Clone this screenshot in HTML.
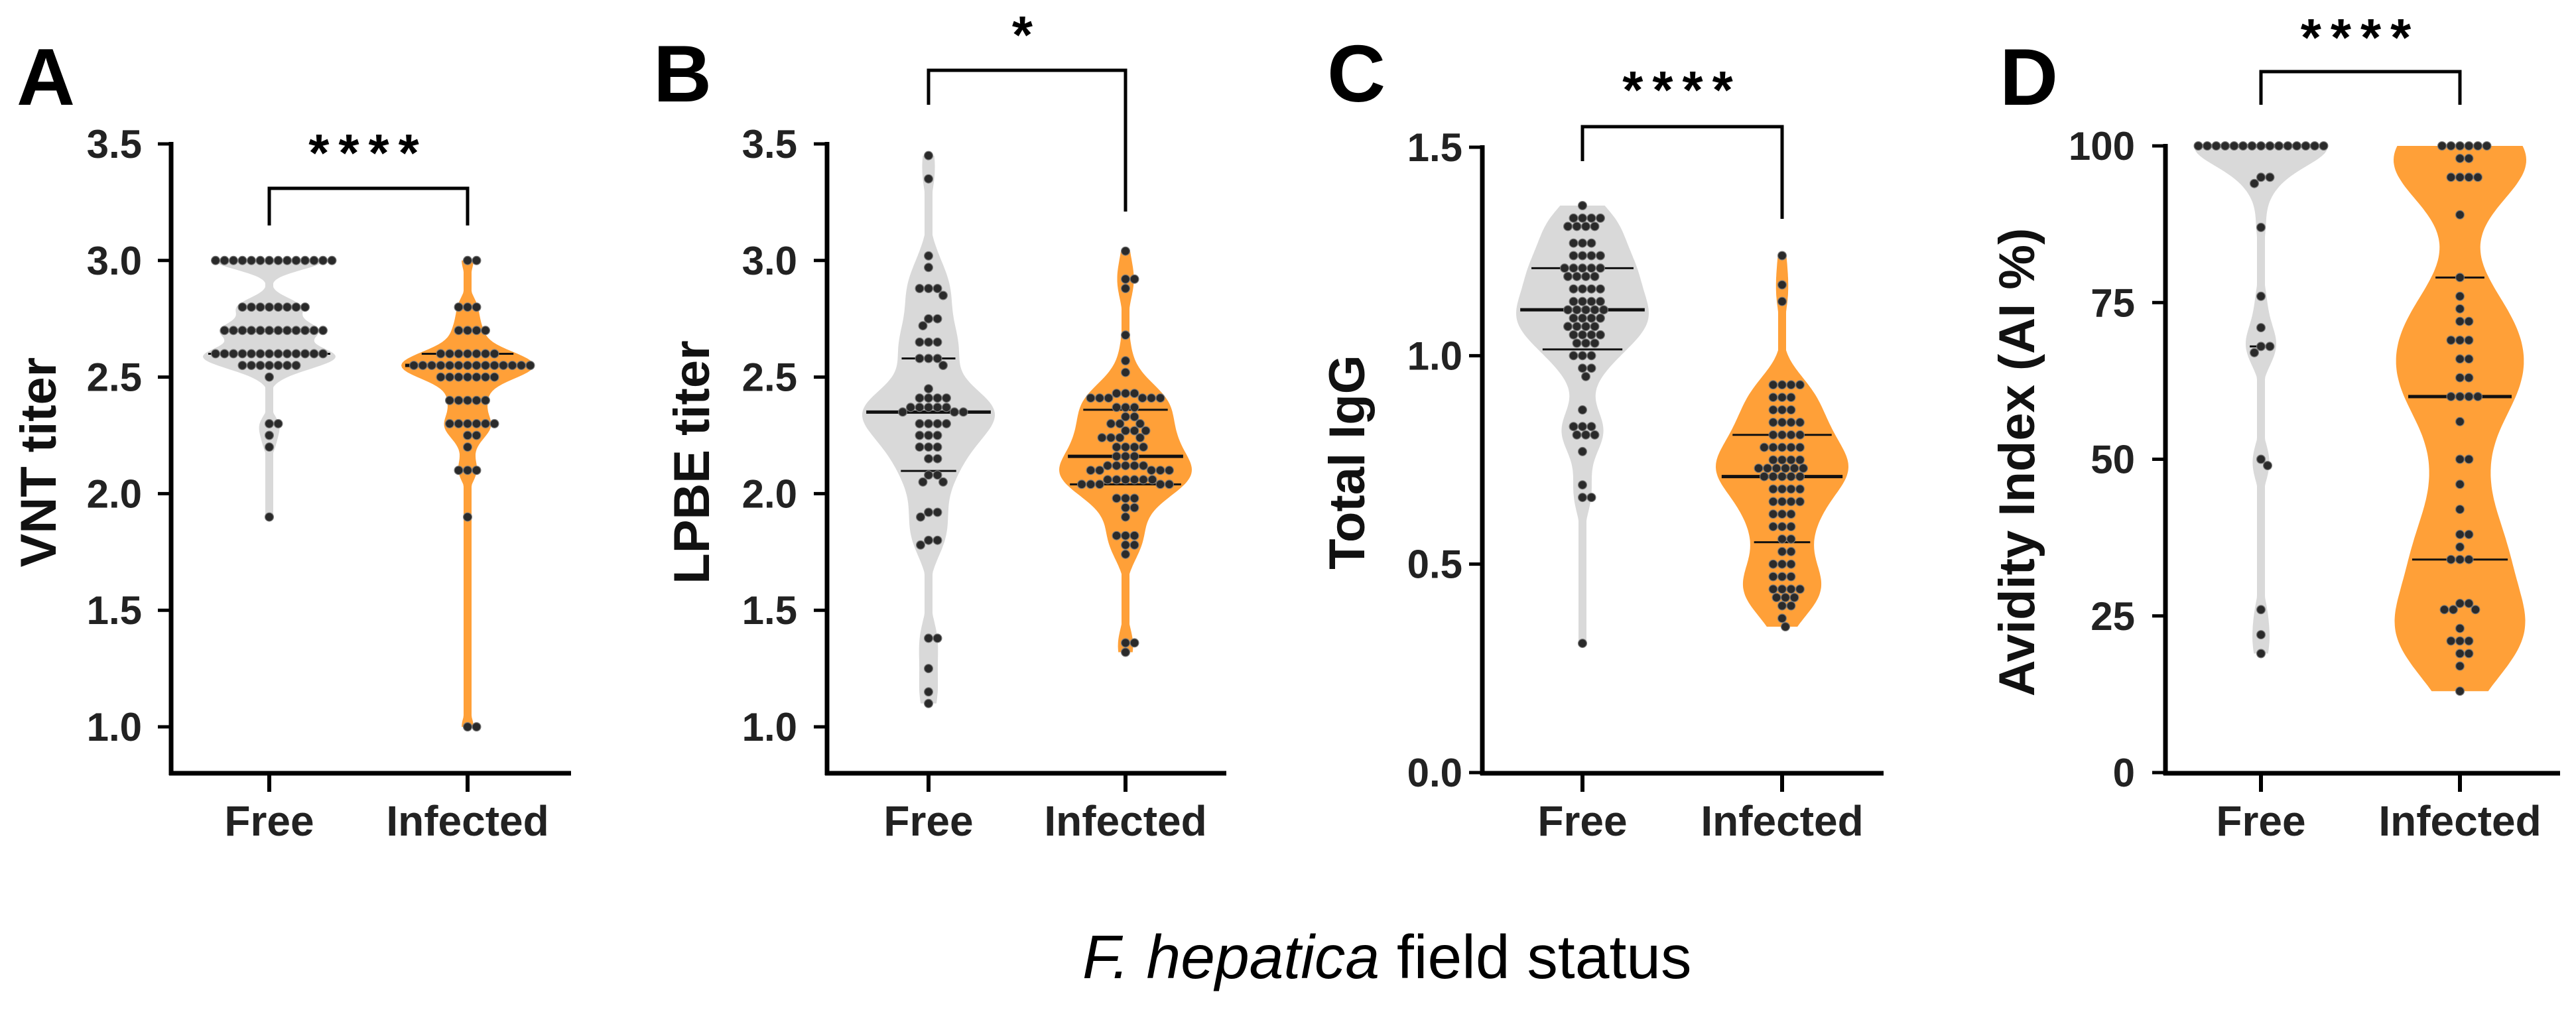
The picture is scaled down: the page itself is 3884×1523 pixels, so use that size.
<!DOCTYPE html>
<html><head><meta charset="utf-8"><style>
html,body{margin:0;padding:0;background:#fff;}
svg{display:block;font-family:"Liberation Sans",Arial,sans-serif;}
</style></head><body>
<svg id="fig" width="3884" height="1523" viewBox="0 0 3884 1523">
<text x="1632" y="1475" font-size="93"><tspan font-style="italic">F. hepatica</tspan> field status</text>
</svg>
<script>
// ---- Data: value levels and counts per group ----
const categories = ["Free", "Infected"];
const aFreeVals = [3.0, 2.8, 2.7, 2.6, 2.55, 2.5, 2.3, 2.25, 2.2, 1.9];
const aFreeCounts = [14, 8, 12, 13, 7, 1, 2, 1, 1, 1];
const aInfVals = [3.0, 2.8, 2.7, 2.6, 2.55, 2.5, 2.4, 2.3, 2.25, 2.2, 2.1, 1.9, 1.0];
const aInfCounts = [2, 3, 4, 7, 14, 7, 5, 6, 2, 1, 3, 1, 2];
const bFreeVals = [3.45, 3.35, 3.02, 2.97, 2.88, 2.85, 2.75, 2.72, 2.65, 2.58, 2.55, 2.45, 2.41, 2.37, 2.35, 2.3, 2.25, 2.2, 2.15, 2.08, 2.05, 1.92, 1.9, 1.8, 1.78, 1.38, 1.25, 1.15, 1.1];
const bFreeCounts = [1, 1, 1, 1, 3, 1, 2, 1, 3, 3, 1, 1, 4, 5, 3, 4, 3, 3, 2, 2, 2, 2, 1, 2, 1, 2, 1, 1, 1];
const bInfVals = [3.04, 2.92, 2.88, 2.68, 2.57, 2.52, 2.43, 2.41, 2.37, 2.33, 2.3, 2.27, 2.24, 2.2, 2.16, 2.12, 2.1, 2.06, 2.04, 1.98, 1.94, 1.9, 1.82, 1.78, 1.74, 1.36, 1.32];
const bInfCounts = [1, 2, 1, 1, 1, 1, 3, 6, 3, 2, 3, 3, 4, 4, 3, 5, 5, 6, 5, 3, 2, 1, 3, 2, 1, 2, 1];
const cFreeVals = [1.36, 1.33, 1.31, 1.27, 1.24, 1.21, 1.19, 1.16, 1.13, 1.11, 1.09, 1.07, 1.05, 1.03, 1.0, 0.97, 0.95, 0.87, 0.83, 0.81, 0.77, 0.69, 0.66, 0.31];
const cFreeCounts = [1, 4, 4, 3, 4, 5, 4, 4, 4, 5, 4, 4, 4, 3, 3, 2, 1, 1, 3, 3, 1, 1, 2, 1];
const cInfVals = [1.24, 1.17, 1.13, 0.93, 0.9, 0.87, 0.84, 0.81, 0.78, 0.75, 0.73, 0.71, 0.68, 0.65, 0.62, 0.59, 0.56, 0.53, 0.5, 0.47, 0.44, 0.42, 0.4, 0.37, 0.35];
const cInfCounts = [1, 1, 1, 4, 3, 3, 4, 4, 5, 4, 6, 5, 4, 4, 3, 3, 2, 2, 3, 3, 4, 3, 2, 1, 1];
const dFreeVals = [100, 95, 94, 87, 76, 71, 68, 67, 50, 49, 26, 22, 19];
const dFreeCounts = [15, 2, 1, 1, 1, 1, 2, 1, 1, 1, 1, 1, 1];
const dInfVals = [100, 98, 95, 89, 79, 76, 74, 72, 69, 66, 63, 60, 56, 50, 46, 42, 38, 36, 34, 27, 26, 23, 21, 19, 17, 13];
const dInfCounts = [6, 2, 4, 1, 1, 1, 1, 2, 3, 2, 2, 4, 1, 2, 1, 1, 2, 1, 3, 2, 3, 1, 3, 2, 1, 1];
const aTicks = [1.0, 1.5, 2.0, 2.5, 3.0, 3.5];
const aTickLabels = ["1.0", "1.5", "2.0", "2.5", "3.0", "3.5"];
const cTicks = [0, 0.5, 1.0, 1.5];
const cTickLabels = ["0.0", "0.5", "1.0", "1.5"];
const dTicks = [0, 25, 50, 75, 100];
const dTickLabels = ["0", "25", "50", "75", "100"];
const sigLabels = ["****", "*", "****", "****"];

const NS = "http://www.w3.org/2000/svg";
const svg = document.getElementById("fig");
function mk(tag, attrs, parent) {
  const e = document.createElementNS(NS, tag);
  for (const k in attrs) e.setAttribute(k, attrs[k]);
  (parent || svg).appendChild(e);
  return e;
}
function expand(v, c) { const o = []; v.forEach((x, i) => { for (let k = 0; k < c[i]; k++) o.push(x); }); return o; }
function quant(s, p) { const i = (s.length - 1) * p, lo = Math.floor(i), hi = Math.ceil(i); return s[lo] + (s[hi] - s[lo]) * (i - lo); }

const panels = [
  {id: "a", letter: "A", title: "VNT titer", free: expand(aFreeVals, aFreeCounts), inf: expand(aInfVals, aInfCounts),
   ticks: aTicks, tlab: aTickLabels, d0: 1.0, d1: 3.5, p0: 1096, p1: 217, axX: 258, axEnd: 861, xF: 406, xI: 705,
   tlRight: 214, titleX: 57, lx: 25, ly: 158, bw: [0.04, 0.05], star: 224, brTop: 284, legL: 340, legR: 340},
  {id: "b", letter: "B", title: "LPBE titer", free: expand(bFreeVals, bFreeCounts), inf: expand(bInfVals, bInfCounts),
   ticks: aTicks, tlab: aTickLabels, d0: 1.0, d1: 3.5, p0: 1096, p1: 217, axX: 1247, axEnd: 1849, xF: 1400, xI: 1697,
   tlRight: 1202, titleX: 1042, lx: 985, ly: 153, bw: [0.09, 0.08], star: 46, brTop: 106, legL: 158, legR: 319},
  {id: "c", letter: "C", title: "Total  IgG", free: expand(cFreeVals, cFreeCounts), inf: expand(cInfVals, cInfCounts),
   ticks: cTicks, tlab: cTickLabels, d0: 0, d1: 1.5, p0: 1165, p1: 222, axX: 2235, axEnd: 2840, xF: 2386, xI: 2687,
   tlRight: 2205, titleX: 2030, lx: 2001, ly: 153, bw: [0.05, 0.05], star: 129, brTop: 191, legL: 243, legR: 330},
  {id: "d", letter: "D", title: "Avidity Index (AI %)", free: expand(dFreeVals, dFreeCounts), inf: expand(dInfVals, dInfCounts),
   ticks: dTicks, tlab: dTickLabels, d0: 0, d1: 100, p0: 1165, p1: 220, axX: 3265, axEnd: 3860, xF: 3409, xI: 3709,
   tlRight: 3219, titleX: 3040, lx: 3015, ly: 158, bw: [3, 6], star: 50, brTop: 108, legL: 158, legR: 158}
];
const AXB = 1166;
const MINW = 6;

panels.forEach(P => {
  const g = mk("g", {});
  
  
  const y = v => P.p0 + (v - P.d0) / (P.d1 - P.d0) * (P.p1 - P.p0);

  const lab = mk("text", {x: P.lx, y: P.ly, "font-size": 122, "font-weight": "bold"}, g);
  lab.textContent = P.letter;
  
  

  const groups = [[P.free, P.xF, "#d9d9d9", P.bw[0], "free"], [P.inf, P.xI, "#ffa038", P.bw[1], "infected"]];
  groups.forEach(([vals, cx, col, bw, nm]) => {
    const s = vals.slice().sort((a, b) => a - b);
    const mn = s[0], mx = s[s.length - 1];
    const N = 200, pts = [];
    let maxd = 0;
    for (let i = 0; i <= N; i++) {
      const v = mn + (mx - mn) * i / N;
      let d = 0; s.forEach(x => { d += Math.exp(-0.5 * Math.pow((v - x) / bw, 2)); });
      pts.push([v, d]); if (d > maxd) maxd = d;
    }
    const wOf = d => Math.max(d / maxd * 100, MINW);
    const half = v => {
      let best = pts[0];
      pts.forEach(p => { if (Math.abs(p[0] - v) < Math.abs(best[0] - v)) best = p; });
      return wOf(best[1]);
    };
    let dstr = "";
    pts.forEach((p, i) => { dstr += (i ? "L" : "M") + (cx - wOf(p[1])).toFixed(1) + "," + y(p[0]).toFixed(1); });
    for (let i = pts.length - 1; i >= 0; i--) dstr += "L" + (cx + wOf(pts[i][1])).toFixed(1) + "," + y(pts[i][0]).toFixed(1);
    const vp = mk("path", {d: dstr + "Z", fill: col}, g);
    
    

    [[0.25, 3], [0.5, 5], [0.75, 3]].forEach(([q, w]) => {
      const qv = quant(s, q), hw = Math.max(half(qv) - 6, 10);
      const ql = mk("line", {x1: cx - hw, x2: cx + hw, y1: y(qv), y2: y(qv), stroke: "#111", "stroke-width": w}, g);
      
      
    });

    const placed = [], D = 13.5;
    s.slice().sort((a, b) => b - a).forEach(v => {
      const py = y(v);
      let px = cx;
      for (let k = 0; k < 800; k++) {
        const off = (k % 2 ? 1 : -1) * Math.ceil(k / 2) * 0.5;
        const tx = cx + off;
        if (placed.every(p => (p[0] - tx) ** 2 + (p[1] - py) ** 2 >= D * D)) { px = tx; break; }
      }
      placed.push([px, py]);
      const c = mk("circle", {cx: px.toFixed(1), cy: py.toFixed(1), r: 6.4, fill: "#2a2a2a", stroke: "#777", "stroke-width": 1.2}, g);
      
      
    });
  });

  const ya = mk("line", {x1: P.axX, x2: P.axX, y1: P.p1 - 3, y2: AXB + 3, stroke: "#000", "stroke-width": 7}, g);
  
  
  const xa = mk("line", {x1: P.axX - 3, x2: P.axEnd, y1: AXB, y2: AXB, stroke: "#000", "stroke-width": 7}, g);
  
  
  P.ticks.forEach((t, i) => {
    const tk = mk("line", {x1: P.axX - 20, x2: P.axX, y1: y(t), y2: y(t), stroke: "#000", "stroke-width": 5}, g);
    
    
    const tl = mk("text", {x: P.tlRight, y: y(t) + 21, "font-size": 60, "font-weight": "bold", "text-anchor": "end", fill: "#222"}, g);
    tl.textContent = P.tlab[i];
    
    
  });
  [P.xF, P.xI].forEach((x, i) => {
    const tk = mk("line", {x1: x, x2: x, y1: AXB, y2: AXB + 28, stroke: "#000", "stroke-width": 6}, g);
    
    
    const tl = mk("text", {x: x, y: 1260, "font-size": 64, "font-weight": "bold", "text-anchor": "middle", fill: "#222"}, g);
    tl.textContent = categories[i];
    
    
  });
  const yt = mk("text", {x: 0, y: 0, "font-size": 76, "font-weight": "bold", "text-anchor": "middle",
    transform: "translate(" + (P.titleX + 27) + ",697) rotate(-90)", fill: "#111"}, g);
  yt.textContent = P.title;
  
  

  const br = mk("path", {d: "M" + P.xF + "," + P.legL + "V" + P.brTop + "H" + P.xI + "V" + P.legR, fill: "none", stroke: "#000", "stroke-width": 5}, g);
  
  
  const st = mk("text", {x: (P.xF + P.xI) / 2, y: P.star + 34, "font-size": 80, "font-weight": "bold", "text-anchor": "middle", "letter-spacing": 14}, g);
  st.textContent = sigLabels[panels.indexOf(P)];
  
  
});
</script>
</body></html>
